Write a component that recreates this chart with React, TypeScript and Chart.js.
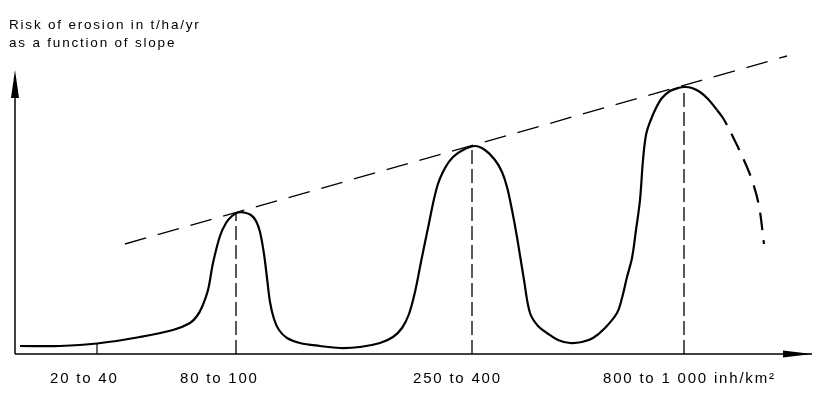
import React, { useEffect, useRef } from "react";
import { Chart, registerables } from "chart.js";

Chart.register(...registerables);

// Schematic data (x: position along population-density axis, y: erosion risk)
const curveX = [5, 45, 82, 125, 158, 175, 182, 187, 193, 198, 205, 211, 217, 223, 229, 236, 241, 245, 249, 252, 255, 259, 264, 272, 285, 305, 325, 345, 365, 378, 387, 394, 400, 406, 413, 422, 430, 438, 448, 460, 470, 480, 487, 492, 497, 502, 509, 515, 523, 532, 543, 555, 567, 578, 590, 602, 607, 612, 617, 621, 625, 628, 631, 635, 641, 647, 655, 663, 670, 677, 685, 693, 702];
const curveY = [8, 8, 10.5, 17, 24, 31, 38, 47, 64, 91, 118, 131, 138, 141.5, 141.5, 139, 133, 122, 100, 76, 52, 35, 24, 16, 11, 8, 6, 7, 11, 17, 26, 40, 62, 92, 126, 167, 186, 197, 204, 208, 204, 194, 182, 167, 144, 117, 74, 41, 28, 21, 14, 11, 12, 16, 26, 41, 56, 77, 96, 124, 154, 194, 219, 232, 246, 256, 263, 266, 267, 266, 262, 255, 244];

const tailX = [702, 708, 718, 728, 737, 744, 749];
const tailY = [244, 236, 217, 196, 174, 148, 110];

const trendX = [110, 772];
const trendY = [110, 298];

const peakX = [221, 457, 669];
const peakY = [141.5, 208, 267];

const tickX = [82];
const tickY = [11];

const categoryLabels = ["20 to 40", "80 to 100", "250 to 400", "800 to 1 000 inh/km²"];
const categoryLabelX = [35, 165, 398, 588];

const titleLines = ["Risk of erosion in t/ha/yr", "as a function of slope"];

const toPts = (xs: number[], ys: number[]) => xs.map((x, i) => ({ x, y: ys[i] }));

const axesPlugin = {
  id: "schematicAxes",
  afterDatasetsDraw(chart: any) {
    const { ctx } = chart;
    const xs = chart.scales.x;
    const ys = chart.scales.y;
    const x0 = xs.getPixelForValue(0);
    const y0 = ys.getPixelForValue(0);
    const yTip = ys.getPixelForValue(284);
    const yBase = ys.getPixelForValue(256);
    const xTip = xs.getPixelForValue(797);
    const xBase = xs.getPixelForValue(768);
    ctx.save();
    ctx.strokeStyle = "#000";
    ctx.fillStyle = "#000";
    ctx.lineWidth = 1.5;
    ctx.setLineDash([]);
    // y axis
    ctx.beginPath();
    ctx.moveTo(x0, y0);
    ctx.lineTo(x0, yBase);
    ctx.stroke();
    ctx.beginPath();
    ctx.moveTo(x0, yTip);
    ctx.lineTo(x0 + 4, yBase);
    ctx.lineTo(x0 - 4, yBase);
    ctx.closePath();
    ctx.fill();
    // x axis
    ctx.beginPath();
    ctx.moveTo(x0, y0);
    ctx.lineTo(xTip, y0);
    ctx.stroke();
    ctx.beginPath();
    ctx.moveTo(xTip, y0);
    ctx.lineTo(xBase, y0 - 3.5);
    ctx.lineTo(xBase, y0 + 3.5);
    ctx.closePath();
    ctx.fill();

    // category labels
    ctx.font = '15px "Liberation Sans", Arial, sans-serif';
    (ctx as any).letterSpacing = "1.8px";
    ctx.textAlign = "left";
    ctx.textBaseline = "alphabetic";
    categoryLabels.forEach((t, i) => {
      ctx.fillText(t, xs.getPixelForValue(categoryLabelX[i]), y0 + 29);
    });

    // title
    ctx.font = '13.5px "Liberation Sans", Arial, sans-serif';
    (ctx as any).letterSpacing = "1.8px";
    ctx.fillText(titleLines[0], 9, 29);
    ctx.fillText(titleLines[1], 9, 47);
    ctx.restore();
  },
};

export default function App() {
  const ref = useRef<HTMLCanvasElement | null>(null);
  useEffect(() => {
    if (!ref.current) return;
    const lineBase = {
      showLine: true,
      pointRadius: 0,
      pointHoverRadius: 0,
      borderColor: "#000",
      backgroundColor: "#000",
      fill: false,
      clip: false as any,
    };
    const chart = new Chart(ref.current, {
      type: "scatter",
      data: {
        datasets: [
          { ...lineBase, label: "trend", data: toPts(trendX, trendY), borderWidth: 1.3, borderDash: [22, 12], tension: 0 },
          ...peakX.map((px, i) => ({
            ...lineBase,
            label: "peak" + i,
            data: [{ x: px, y: 0 }, { x: px, y: peakY[i] }],
            borderWidth: 1.3,
            borderDash: [14, 5],
            tension: 0,
          })),
          { ...lineBase, label: "tick", data: [{ x: tickX[0], y: 0 }, { x: tickX[0], y: tickY[0] }], borderWidth: 1.2, tension: 0 },
          { ...lineBase, label: "risk", data: toPts(curveX, curveY), borderWidth: 2.2, tension: 0.35 },
          { ...lineBase, label: "risk (extrapolated)", data: toPts(tailX, tailY), borderWidth: 2.2, borderDash: [18, 10], tension: 0.35 },
        ] as any,
      },
      options: {
        responsive: false,
        animation: false,
        events: [],
        layout: { padding: { left: 15, right: 12, top: 54, bottom: 39 } },
        scales: {
          x: { type: "linear", min: 0, max: 800, display: false },
          y: { type: "linear", min: 0, max: 300, display: false },
        },
        plugins: {
          legend: { display: false },
          tooltip: { enabled: false },
          title: { display: false },
        },
      },
      plugins: [axesPlugin],
    });
    return () => chart.destroy();
  }, []);
  return (
    <div style={{ position: "absolute", left: 0, top: 0, width: 827, height: 393, background: "#fff" }}>
      <canvas ref={ref} width={827} height={393} style={{ display: "block" }} />
    </div>
  );
}
